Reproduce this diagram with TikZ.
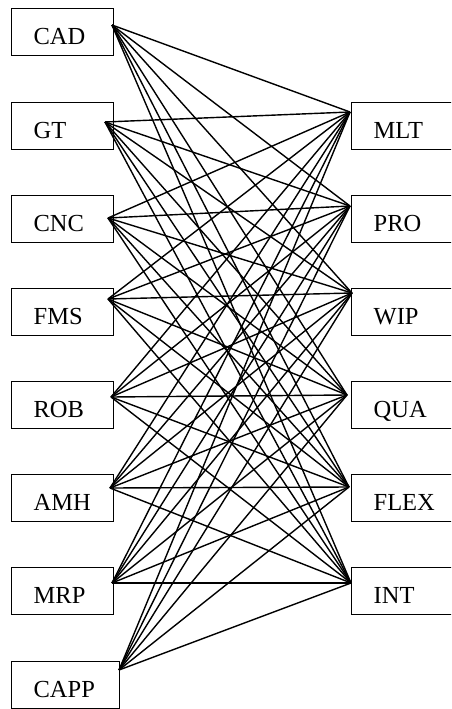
\documentclass[tikz,border=0pt]{standalone}
\usepackage{fontspec}
\setmainfont{Liberation Serif}
\begin{document}
\begin{tikzpicture}[x=1pt,y=-1pt,
  box/.style={draw, line width=1.3pt, rectangle, anchor=north west,
    inner xsep=0pt, inner ysep=0pt, text height=36pt, text depth=11pt,
    minimum height=47pt, font=\fontsize{24.5}{28}\selectfont, align=left,
    execute at begin node={\hspace*{22pt}}},
  lbox/.style={box, text width=102pt},
  rbox/.style={box, text width=130pt},
  link/.style={line width=1.4pt}]
\useasboundingbox (0,0) rectangle (451,709);
\clip (0,0) rectangle (451,709);
% left boxes
\node[lbox] (CAD) at (11,8) {CAD};
\node[lbox] (GT) at (11,101.5) {GT};
\node[lbox] (CNC) at (11,194.5) {CNC};
\node[lbox] (FMS) at (11,287.5) {FMS};
\node[lbox] (ROB) at (11,380.5) {ROB};
\node[lbox] (AMH) at (11,474) {AMH};
\node[lbox] (MRP) at (11,567) {MRP};
\node[box, text width=108pt] (CAPP) at (11,660.5) {CAPP};
% right boxes
\node[rbox] (MLT) at (351,101.5) {MLT};
\node[rbox] (PRO) at (351,194.5) {PRO};
\node[rbox] (WIP) at (351,287.5) {WIP};
\node[rbox] (QUA) at (351,380.5) {QUA};
\node[rbox] (FLEX) at (351,474) {FLEX};
\node[rbox] (INT) at (351,567) {INT};
% connection points
\coordinate (oCAD) at (112,25);
\coordinate (oGT) at (105,122);
\coordinate (oCNC) at (108,218);
\coordinate (oFMS) at (108,299);
\coordinate (oROB) at (111,397);
\coordinate (oAMH) at (110,488);
\coordinate (oMRP) at (112,583);
\coordinate (oCAPP) at (119,670);
\coordinate (iMLT) at (350,112);
\coordinate (iPRO) at (350,206);
\coordinate (iWIP) at (352,293);
\coordinate (iQUA) at (347,395);
\coordinate (iFLEX) at (349,487);
\coordinate (iINT) at (351,583);
\foreach \l in {CAD,GT,CNC,FMS,ROB,AMH,MRP,CAPP}{
  \foreach \r in {MLT,PRO,WIP,QUA,FLEX,INT}{
    \draw[link] (o\l) -- (i\r);
  }
}
\end{tikzpicture}
\end{document}
